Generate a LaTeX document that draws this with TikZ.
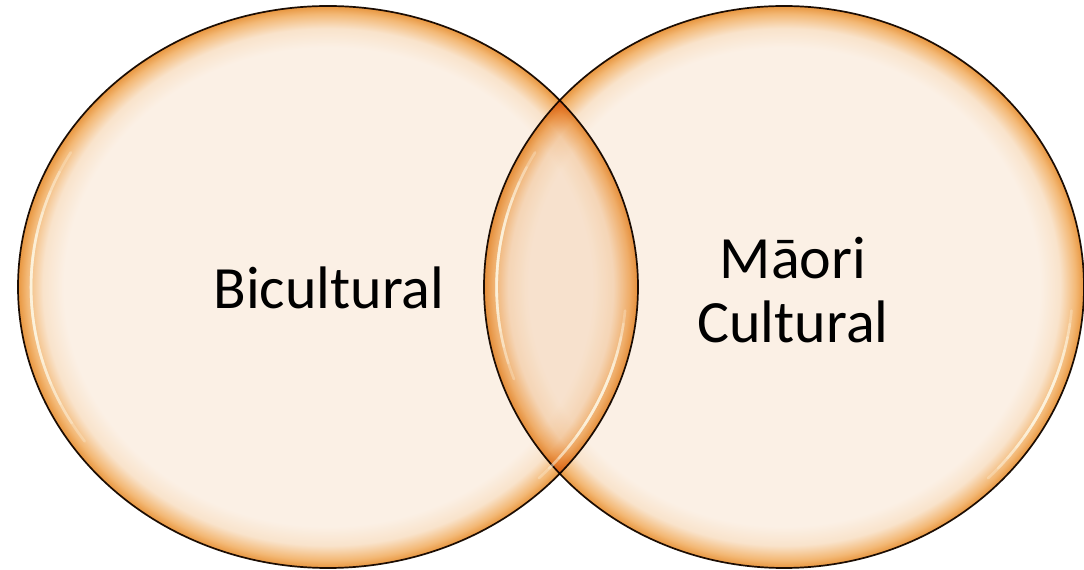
\documentclass[tikz,border=0pt]{standalone}
\usepackage{fontspec}
\setmainfont{Carlito}
\definecolor{cream}{HTML}{FBF0E5}
\definecolor{creamB}{HTML}{F9E3CB}
\definecolor{rimmid}{HTML}{F3B875}
\definecolor{rimdark}{HTML}{E8963F}
\definecolor{outline}{HTML}{1E1208}
\definecolor{shine}{HTML}{FFFBEA}
% soft orange rim fading into a cream centre (25bp = edge of the shape)
\pgfdeclareradialshading{glassrim}{\pgfpoint{0bp}{0bp}}{%
  color(0bp)=(cream); color(21.3bp)=(cream); color(23bp)=(creamB);
  color(24.3bp)=(rimmid); color(25bp)=(rimdark); color(50bp)=(rimdark)}
\tikzset{
  bubble/.style={shading=glassrim, draw=outline, line width=1.7pt},
  label/.style={font=\fontsize{60}{64}\selectfont, text=black, align=center},
}
% glossy highlight inside the rim, tapered by stacking shorter arcs
\newcommand{\gloss}[6]{% centre, rx, ry, from, to, scale
  \foreach \k in {0,...,5}{
    \draw[shine, line width=2.6pt, opacity=0.28, line cap=round]
      (#1) ++({#4+\k*(#5-#4)/14}:{#2*#6} and {#3*#6})
      arc[start angle={#4+\k*(#5-#4)/14}, end angle={#5-\k*(#5-#4)/14},
          x radius={#2*#6}, y radius={#3*#6}];
  }
}
\begin{document}
\begin{tikzpicture}[x=1pt, y=1pt]
  \useasboundingbox (0,0) rectangle (1084,570);
  \coordinate (lc) at (328,283);
  \coordinate (rc) at (784,283);
  \begin{scope}[blend group=multiply]
    \path[bubble] (lc) ellipse [x radius=310, y radius=281];
    \path[bubble] (rc) ellipse [x radius=300, y radius=281];
  \end{scope}
  \gloss{lc}{310}{281}{150}{215}{0.958}
  \gloss{lc}{310}{281}{-45}{-5}{0.962}
  \gloss{rc}{300}{281}{150}{200}{0.958}
  \gloss{rc}{300}{281}{-45}{-5}{0.962}
  \node[label] (bi) at (329,282) {Bicultural};
  \node[label] (mc) at (793,280) {Māori\\Cultural};
\end{tikzpicture}
\end{document}
